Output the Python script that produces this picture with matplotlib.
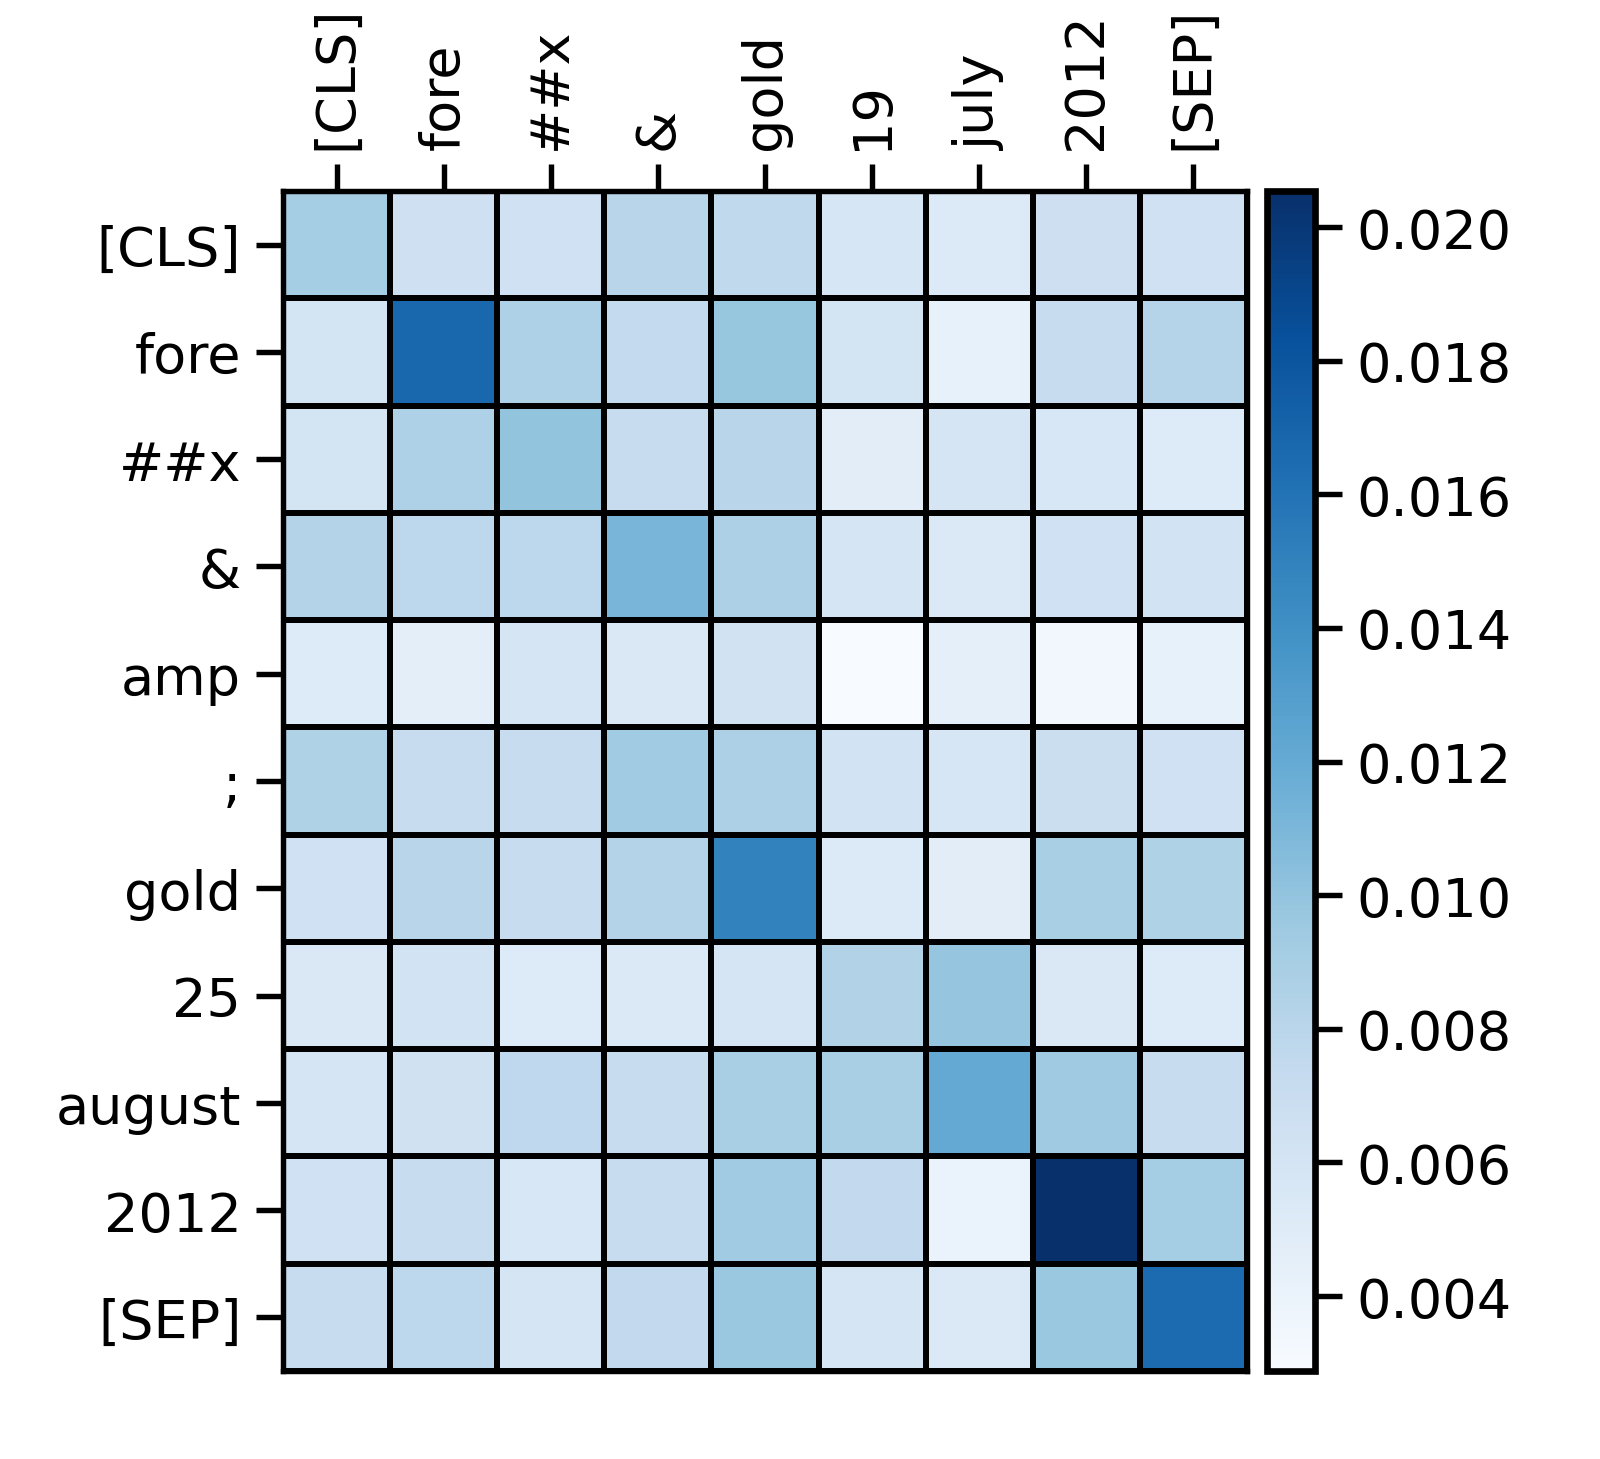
import matplotlib
matplotlib.use("Agg")
import matplotlib.pyplot as plt
import numpy as np

row_labels = ["[CLS]", "fore", "##x", "&", "amp", ";", "gold", "25", "august", "2012", "[SEP]"]
col_labels = ["[CLS]", "fore", "##x", "&", "gold", "19", "july", "2012", "[SEP]"]

# attention weights, one row per query token
row_cls = [0.0091, 0.0066, 0.0065, 0.0081, 0.0076, 0.0058, 0.0053, 0.0067, 0.0065]
row_fore = [0.0061, 0.0168, 0.0086, 0.0074, 0.0098, 0.0061, 0.0043, 0.0071, 0.0082]
row_x = [0.0061, 0.0086, 0.0100, 0.0071, 0.0081, 0.0048, 0.0059, 0.0057, 0.0052]
row_amp_sign = [0.0083, 0.0078, 0.0078, 0.0111, 0.0087, 0.0059, 0.0054, 0.0065, 0.0062]
row_amp = [0.0052, 0.0047, 0.0059, 0.0055, 0.0063, 0.00288, 0.0045, 0.0034, 0.0043]
row_semi = [0.0085, 0.0071, 0.0071, 0.0093, 0.0087, 0.0062, 0.0058, 0.0069, 0.0065]
row_gold = [0.0065, 0.0081, 0.0071, 0.0083, 0.0150, 0.0053, 0.0048, 0.0089, 0.0085]
row_25 = [0.0055, 0.0062, 0.0052, 0.0054, 0.0059, 0.0084, 0.0099, 0.0055, 0.0052]
row_august = [0.0059, 0.0064, 0.0077, 0.0072, 0.0089, 0.0089, 0.0121, 0.0095, 0.0071]
row_2012 = [0.0065, 0.0071, 0.0057, 0.0071, 0.0093, 0.0075, 0.0040, 0.02054, 0.0091]
row_sep = [0.0071, 0.0078, 0.0059, 0.0075, 0.0097, 0.0059, 0.0054, 0.0097, 0.0166]

cbar_ticks = [0.004, 0.006, 0.008, 0.010, 0.012, 0.014, 0.016, 0.018, 0.020]

weights = np.array([
    row_cls, row_fore, row_x, row_amp_sign, row_amp, row_semi,
    row_gold, row_25, row_august, row_2012, row_sep,
])

plt.rcParams.update({
    "font.size": 13,
    "axes.linewidth": 1.3,
})

fig = plt.figure(figsize=(1600 / 300, 1460 / 300), dpi=300)
ax = fig.add_axes([0.1769, 0.0603, 0.6025, 0.8082])
cax = fig.add_axes([0.7919, 0.0603, 0.030, 0.8082])

mesh = ax.pcolormesh(
    weights,
    cmap="Blues",
    edgecolors="black",
    linewidth=1.4,
)
ax.set_xlim(0, len(col_labels))
ax.set_ylim(len(row_labels), 0)

ax.xaxis.tick_top()
ax.set_xticks(np.arange(len(col_labels)) + 0.5, labels=col_labels, rotation=90)
ax.set_yticks(np.arange(len(row_labels)) + 0.5, labels=row_labels)
ax.tick_params(length=6.5, width=1.3)

cbar = fig.colorbar(mesh, cax=cax, ticks=cbar_ticks)
cbar.ax.set_yticklabels([f"{t:.3f}" for t in cbar_ticks])
cbar.outline.set_linewidth(1.6)
cbar.ax.tick_params(length=6.5, width=1.3)

fig.savefig("out.png", dpi=300)
